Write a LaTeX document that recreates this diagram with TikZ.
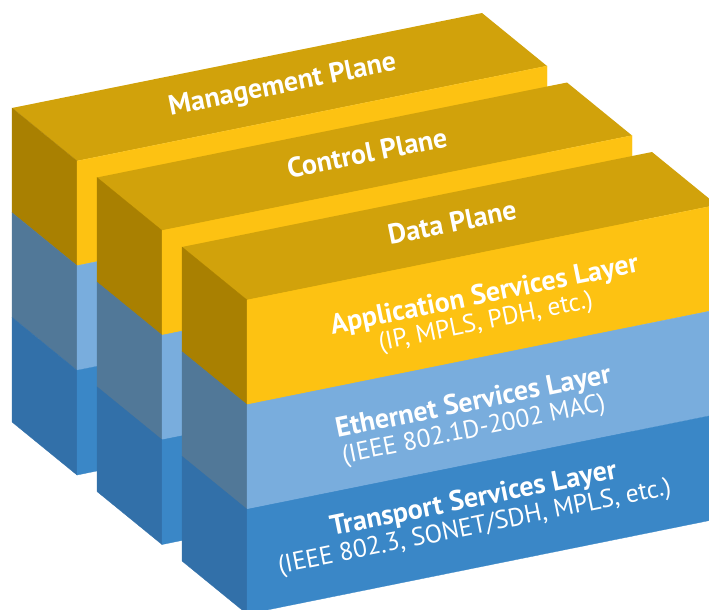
\documentclass[tikz,border=0pt]{standalone}
\usepackage{fontspec}
\setmainfont{PT Sans}
\definecolor{planetop}{HTML}{D1A20B}
\definecolor{frontgold}{HTML}{FDC212}
\definecolor{sidegold}{HTML}{A98001}
\definecolor{frontlight}{HTML}{79ADDD}
\definecolor{sidelight}{HTML}{517898}
\definecolor{frontblue}{HTML}{3A87C7}
\definecolor{sideblue}{HTML}{3270A9}
\tikzset{
  planetext/.style = {
    text=white,
    font=\bfseries\fontsize{28}{30}\selectfont,
    rotate=11.43,
    anchor=base,
    inner sep=0pt
  },
  layertitle/.style = {
    planetext
  },
  layersub/.style = {
    text=white,
    font=\fontsize{25.5}{28}\selectfont,
    rotate=11.43,
    anchor=base,
    inner sep=0pt
  }
}

\begin{document}
\begin{tikzpicture}[x=1pt,y=-1pt]
  \useasboundingbox (0,0) rectangle (709,610);
  \clip (0,0) rectangle (709,610);
  % one block per plane, back to front
  \foreach \i/\plane in {0/Management Plane,1/Control Plane,2/Data Plane}{
    \begin{scope}[shift={(85*\i,69.5*\i)}]
      \fill[planetop] (77,161) -- (547,66) -- (482,13) -- (12,108) -- cycle;
      \foreach \c [count=\k from 0] in {gold,light,blue}{
        \filldraw[side\c, line width=0.3pt] (77,161+104.67*\k) -- ++(-65,-53) -- ++(0,104.67) -- ++(65,53) -- cycle;
        \filldraw[front\c, line width=0.3pt] (77,161+104.67*\k) -- ++(470,-95) -- ++(0,104.67) -- ++(-470,95) -- cycle;
      }
      \node[planetext] (plane\i) at (284,93) {\plane};
    \end{scope}
  }
  % layer names on the front block
  \node[layertitle] (app) at (486,303) {Application Services Layer};
  \node[layersub] (appsub) at (487,329) {(IP, MPLS, PDH, etc.)};
  \node[layertitle] (eth) at (475,410) {Ethernet Services Layer};
  \node[layersub] (ethsub) at (475,437) {(IEEE 802.1D-2002 MAC)};
  \node[layertitle] (trans) at (475,507) {Transport Services Layer};
  \node[layersub] (transsub) at (476,534) {(IEEE 802.3, SONET/SDH, MPLS, etc.)};
\end{tikzpicture}
\end{document}
